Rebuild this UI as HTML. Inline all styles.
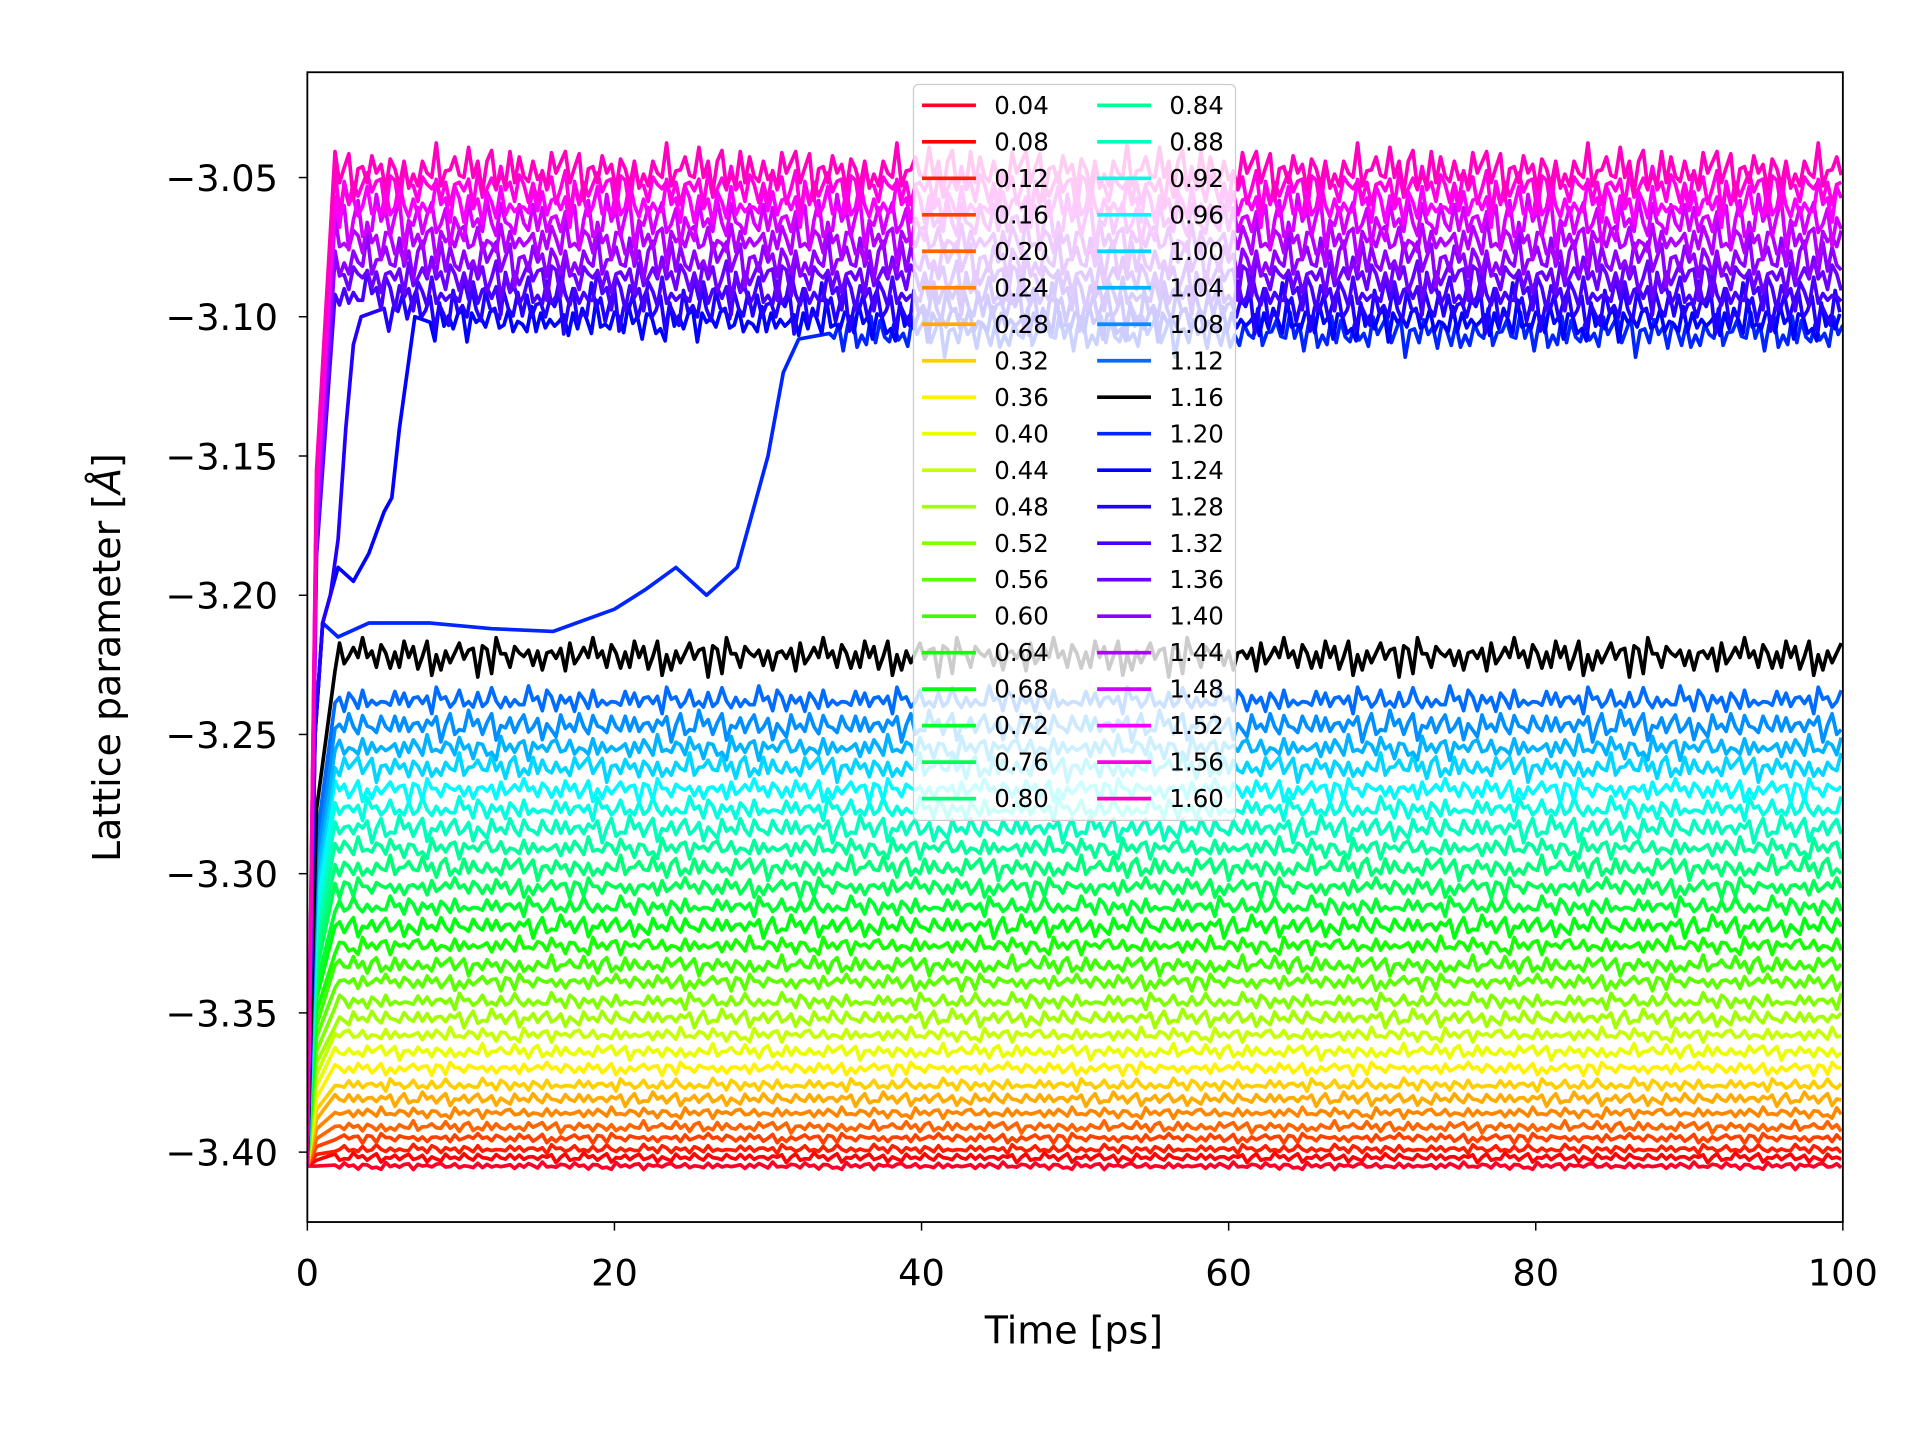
<!DOCTYPE html>
<html><head><meta charset="utf-8"><style>
html,body{margin:0;padding:0;background:#fff;}
svg{display:block;font-family:"DejaVu Sans","Liberation Sans",sans-serif;}
</style></head><body>
<svg id="chart" width="1920" height="1440" viewBox="0 0 1568 1176" xmlns="http://www.w3.org/2000/svg">
<rect width="1568" height="1176" fill="#fff"/>
<defs><clipPath id="clip"><rect x="251" y="59" width="1254" height="939"/></clipPath></defs>
<g id="series" clip-path="url(#clip)"></g>
<g id="legend"></g>
<rect x="251" y="59" width="1254" height="939" fill="none" stroke="#000" stroke-width="1.5"/>
<g id="xticks"></g>
<g id="yticks"></g>
<text x="877" y="1097" font-size="31" text-anchor="middle">Time [ps]</text>
<text transform="translate(98,537) rotate(-90)" font-size="31" text-anchor="middle">Lattice parameter [<tspan font-style="italic">Å</tspan>]</text>
</svg>
<script>
const labels=["0.04","0.08","0.12","0.16","0.20","0.24","0.28","0.32","0.36","0.40","0.44","0.48","0.52","0.56","0.60","0.64","0.68","0.72","0.76","0.80","0.84","0.88","0.92","0.96","1.00","1.04","1.08","1.12","1.16","1.20","1.24","1.28","1.32","1.36","1.40","1.44","1.48","1.52","1.56","1.60"];
const levels=[-3.405,-3.402,-3.399,-3.395,-3.391,-3.386,-3.381,-3.376,-3.370,-3.364,-3.358,-3.352,-3.346,-3.339,-3.333,-3.326,-3.319,-3.312,-3.305,-3.298,-3.291,-3.284,-3.277,-3.270,-3.262,-3.255,-3.247,-3.238,-3.222,-3.106,-3.102,-3.097,-3.092,-3.086,-3.080,-3.073,-3.066,-3.060,-3.054,-3.048];
const wiggle=[0.2,-0.5,0.8,-0.1,0.4,-0.9,0.3,0.6,-0.4,0.1,-0.7,0.9,-0.2,0.5,-0.6,0.0,0.7,-0.8,0.3,-0.3,0.6,-0.5,0.2,0.9,-0.4,-0.1,0.5,-0.9,0.4,0.1,-0.6,0.8,-0.2,0.3,-0.7,0.6,0.0,-0.4,0.7,-0.3,0.2,-0.8,0.5,0.1,-0.5,0.9,-0.6,0.3,-0.1,0.4];
const trans120T=[0,0.5,1,2,4,8,12,16,20,22,24,26,28,29,30,31,32,34];
const trans120V=[-3.40,-3.25,-3.21,-3.215,-3.21,-3.21,-3.212,-3.213,-3.205,-3.198,-3.19,-3.2,-3.19,-3.17,-3.15,-3.12,-3.108,-3.106];
const trans124T=[0,0.5,1,2,3,4,5,5.5,6,6.5,7,8];
const trans124V=[-3.40,-3.25,-3.21,-3.19,-3.195,-3.185,-3.17,-3.165,-3.14,-3.12,-3.10,-3.102];
const trans128T=[0,0.5,1,1.5,2,2.5,3,3.5,5];
const trans128V=[-3.40,-3.25,-3.21,-3.20,-3.18,-3.14,-3.11,-3.10,-3.097];
const xTicks=[0,20,40,60,80,100];
const yTicks=[-3.05,-3.10,-3.15,-3.20,-3.25,-3.30,-3.35,-3.40];

const X=t=>251+t*12.54;
const Y=v=>145-(v+3.05)/0.05*113.7;
const NS='http://www.w3.org/2000/svg';
function mk(tag,attrs,parent){const e=document.createElementNS(NS,tag);for(const k in attrs)e.setAttribute(k,attrs[k]);parent.appendChild(e);return e;}
const stops=[[0,[1,0,0.16]],[0.03,[1,0,0]],[0.215,[1,1,0]],[0.4,[0,1,0]],[0.586,[0,1,1]],[0.77,[0,0,1]],[0.954,[1,0,1]],[1,[1,0,0.75]]];
function cmap(f){for(let i=0;i<stops.length-1;i++){const [a,ca]=stops[i],[b,cb]=stops[i+1];if(f>=a&&f<=b){const u=(f-a)/(b-a);return 'rgb('+ca.map((c,j)=>Math.round(255*(c+(cb[j]-c)*u))).join(',')+')';}}return 'rgb(255,0,191)';}
const colors=labels.map((l,i)=>l==="1.16"?"#000":cmap(i/(labels.length-1)));
const sg=document.getElementById('series');
const transMap={29:[trans120T,trans120V],30:[trans124T,trans124V],31:[trans128T,trans128V]};
levels.forEach((lv,i)=>{
  const amp=0.0012+0.0045*(i/39)+(i>=28?0.002:0);
  const pts=[];
  const tr=transMap[i];
  let tEnd=1.5;
  if(tr){tr[0].forEach((t,k)=>pts.push([t,tr[1][k]]));tEnd=tr[0][tr[0].length-1];}
  else{pts.push([0,-3.405]);pts.push([0.6,lv-(lv+3.405)*0.3]);}
  for(let t=tEnd+0.3,k=0;t<=100.01;t+=0.3,k++){
    const w=wiggle[(k+i*7)%wiggle.length]+0.5*wiggle[(k*3+i*11)%wiggle.length];
    pts.push([t,lv+amp*w]);
  }
  const p=mk('path',{d:'M'+pts.map(q=>X(q[0]).toFixed(1)+','+Y(q[1]).toFixed(1)).join('L'),fill:'none',stroke:colors[i],'stroke-width':3,'stroke-linejoin':'round'},sg);
  
  
});
const lg=document.getElementById('legend');
const box=mk('rect',{x:746,y:69,width:263,height:601,rx:4,fill:'rgba(255,255,255,0.8)',stroke:'#ccc','stroke-width':1},lg);


labels.forEach((l,i)=>{
  const col=Math.floor(i/20),row=i%20;
  const x0=753+col*143,y0=86+row*29.8;
  const g=mk('g',{},lg);
  
  
  mk('line',{x1:x0,x2:x0+44,y1:y0,y2:y0,stroke:colors[i],'stroke-width':3},g);
  const t=mk('text',{x:x0+59,y:y0+7,'font-size':20},g);t.textContent=l;
});
const xg=document.getElementById('xticks');
xTicks.forEach(v=>{
  mk('line',{x1:X(v),x2:X(v),y1:998,y2:1005,stroke:'#000','stroke-width':1.2},xg);
  const t=mk('text',{x:X(v),y:1050,'font-size':30,'text-anchor':'middle'},xg);t.textContent=v;
  
  
});
const yg=document.getElementById('yticks');
yTicks.forEach(v=>{
  mk('line',{x1:244,x2:251,y1:Y(v),y2:Y(v),stroke:'#000','stroke-width':1.2},yg);
  const t=mk('text',{x:227,y:Y(v)+11,'font-size':30,'text-anchor':'end'},yg);t.textContent='\u2212'+Math.abs(v).toFixed(2);
  
  
});
</script>
</body></html>
